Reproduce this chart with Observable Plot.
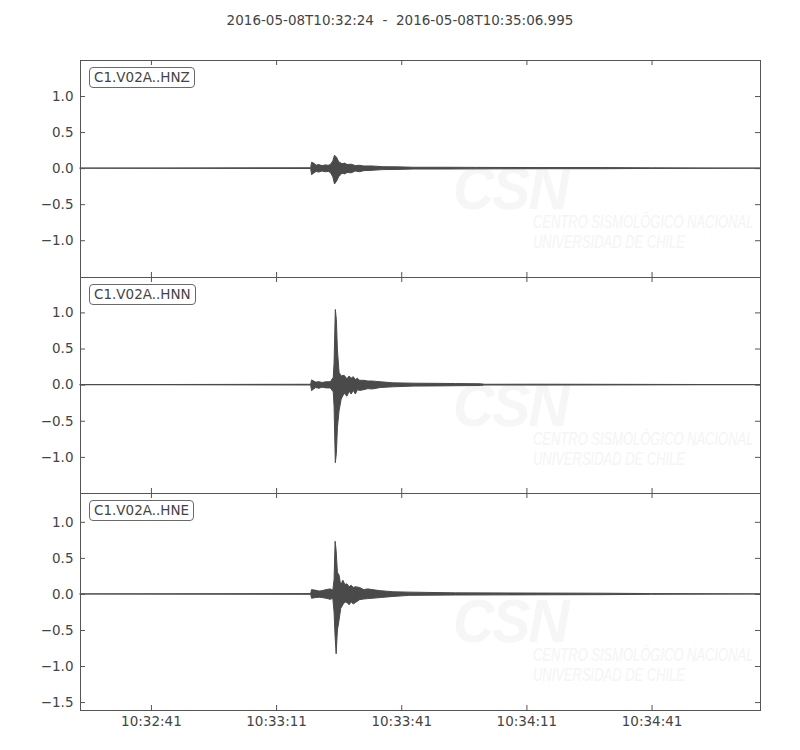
<!DOCTYPE html>
<html>
<head>
<meta charset="utf-8">
<script src="https://cdn.jsdelivr.net/npm/d3@7"></script>
<script src="https://cdn.jsdelivr.net/npm/@observablehq/plot@0.6"></script>
<style>
  body { margin: 0; background: #fff; }
  #chart { position: relative; width: 800px; height: 750px; font-family: "DejaVu Sans", sans-serif; color: #444; overflow: hidden; }
  .title { position: absolute; top: 12px; left: 0; width: 800px; text-align: center; font-size: 13.5px; white-space: pre; }
  .panel { position: absolute; left: 0; }
  .label { position: absolute; left: 89px; padding: 1px 4px; border: 1px solid #6a6a6a; border-radius: 4px; background: #fff; font-size: 13.5px; line-height: 17px; }
  .wm1 { position: absolute; left: 453px; font: italic bold 62px "Liberation Sans", sans-serif; color: #f6f6f6; transform: scaleX(0.92); transform-origin: left top; letter-spacing: -2px; }
  .wm2 { position: absolute; left: 533px; font: italic 18px "Liberation Sans", sans-serif; color: #f4f4f4; line-height: 20px; white-space: pre; transform: scaleX(0.72); transform-origin: left top; }
</style>
</head>
<body>
<div id="chart"></div>
<script>
// ---------- data ----------
const startTime = "2016-05-08T10:32:24Z";
const endTime = "2016-05-08T10:35:06.995Z";
const titleText = "2016-05-08T10:32:24  -  2016-05-08T10:35:06.995";
const channels = ["C1.V02A..HNZ", "C1.V02A..HNN", "C1.V02A..HNE"];
const xTickLabels = ["10:32:41", "10:33:11", "10:33:41", "10:34:11", "10:34:41"];
const yTicksA = [-1, -0.5, 0, 0.5, 1];
const yTicksB = [-1.5, -1, -0.5, 0, 0.5, 1];
const watermarkBig = "CSN";
const watermarkLines = "CENTRO SISMOLÓGICO NACIONAL\nUNIVERSIDAD DE CHILE";

// envelopes: seconds after start, upper and lower amplitude
const hnzT  = [0, 55.3, 55.5, 56.0, 56.6, 57.2, 58.0, 58.8, 59.5, 60.0, 60.6, 61.0, 61.5, 62.0, 62.8, 63.5, 64.0, 65.0, 66.0, 67.0, 68.0, 70.0, 72.6, 76.0, 80.0, 88.0, 95.0, 110.0, 125.0, 137.0, 162.995];
const hnzHi = [0, 0.005, 0.08, 0.07, 0.04, 0.05, 0.035, 0.045, 0.04, 0.05, 0.10, 0.18, 0.15, 0.09, 0.06, 0.07, 0.05, 0.055, 0.035, 0.04, 0.03, 0.03, 0.02, 0.018, 0.012, 0.012, 0.01, 0.008, 0.008, 0.004, 0];
const hnzLo = [0, -0.005, -0.09, -0.07, -0.045, -0.055, -0.04, -0.05, -0.045, -0.06, -0.12, -0.22, -0.18, -0.12, -0.07, -0.08, -0.06, -0.065, -0.04, -0.05, -0.035, -0.03, -0.02, -0.018, -0.012, -0.012, -0.01, -0.008, -0.008, -0.004, 0];

const hnnT  = [0, 55.3, 55.5, 56.0, 56.5, 57.3, 58.0, 59.0, 60.0, 60.7, 60.9, 61.2, 61.45, 61.7, 62.1, 62.6, 63.3, 64.0, 64.5, 65.0, 65.5, 66.0, 66.5, 67.0, 68.0, 69.0, 70.0, 72.0, 75.0, 80.0, 85.0, 90.0, 96.0, 97.0, 110.0, 130.0, 162.995];
const hnnHi = [0, 0.005, 0.065, 0.05, 0.035, 0.04, 0.03, 0.04, 0.04, 0.10, 0.3, 1.04, 0.9, 0.48, 0.17, 0.12, 0.13, 0.08, 0.12, 0.09, 0.11, 0.07, 0.09, 0.06, 0.06, 0.05, 0.05, 0.04, 0.025, 0.02, 0.018, 0.015, 0.012, 0.005, 0.006, 0.004, 0];
const hnnLo = [0, -0.005, -0.083, -0.06, -0.04, -0.05, -0.035, -0.045, -0.045, -0.10, -0.3, -1.08, -0.95, -0.59, -0.36, -0.2, -0.12, -0.16, -0.09, -0.13, -0.08, -0.13, -0.07, -0.08, -0.07, -0.055, -0.06, -0.04, -0.03, -0.02, -0.018, -0.015, -0.012, -0.005, -0.006, -0.004, 0];

const hneT  = [0, 55.3, 55.5, 56.5, 57.3, 58.0, 59.0, 60.0, 60.6, 60.9, 61.15, 61.4, 61.7, 62.1, 62.5, 63.0, 63.5, 64.0, 64.5, 65.0, 65.5, 66.0, 67.0, 68.0, 69.0, 70.0, 72.0, 75.0, 79.0, 90.0, 110.0, 125.0, 137.0, 162.995];
const hneHi = [0, 0.005, 0.06, 0.05, 0.04, 0.045, 0.06, 0.07, 0.05, 0.2, 0.73, 0.6, 0.3, 0.26, 0.12, 0.19, 0.13, 0.14, 0.10, 0.12, 0.09, 0.10, 0.09, 0.06, 0.07, 0.06, 0.045, 0.03, 0.025, 0.015, 0.012, 0.01, 0.005, 0];
const hneLo = [0, -0.005, -0.06, -0.05, -0.045, -0.05, -0.06, -0.075, -0.06, -0.25, -0.6, -0.83, -0.5, -0.36, -0.2, -0.15, -0.11, -0.12, -0.15, -0.11, -0.14, -0.12, -0.08, -0.07, -0.065, -0.06, -0.05, -0.035, -0.02, -0.015, -0.012, -0.01, -0.005, 0];

// ---------- build ----------
const t0 = new Date(startTime);
const t1 = new Date(endTime);
const toDate = s => new Date(t0.getTime() + s * 1000);
const rows = (T, H, L) => T.map((t, i) => ({time: toDate(t), hi: H[i], lo: L[i]}));
const xTicks = xTickLabels.map(s => new Date("2016-05-08T" + s + "Z"));

const series = [rows(hnzT, hnzHi, hnzLo), rows(hnnT, hnnHi, hnnLo), rows(hneT, hneHi, hneLo)];
const yDomains = [[-1.51, 1.5], [-1.5, 1.49], [-1.61, 1.40]];
const yTickSets = [yTicksA, yTicksA, yTicksB];
const panelTops = [60, 277, 493];
const panelHeights = [217, 216, 217];

const ink = "#4a4a4a";
const chart = document.getElementById("chart");

const title = document.createElement("div");
title.className = "title";
title.textContent = titleText;
chart.appendChild(title);

// watermarks (faint, behind)
panelTops.forEach(top => {
  const a = document.createElement("div");
  a.className = "wm1";
  a.style.top = (top + 92) + "px";
  a.textContent = watermarkBig;
  chart.appendChild(a);
  const b = document.createElement("div");
  b.className = "wm2";
  b.style.top = (top + 152) + "px";
  b.textContent = watermarkLines;
  chart.appendChild(b);
});

series.forEach((data, i) => {
  const last = i === series.length - 1;
  const mt = 10, mb = last ? 40 : 10;
  const ph = panelHeights[i];
  const ticks = yTickSets[i];
  const fmt = d3.format(".1f");
  const svg = Plot.plot({
    width: 800,
    height: mt + ph + mb,
    marginLeft: 80,
    marginRight: 40,
    marginTop: mt,
    marginBottom: mb,
    style: {background: "transparent", fontFamily: "DejaVu Sans, sans-serif", fontSize: "13.5px", color: "#444", overflow: "visible"},
    x: {type: "utc", domain: [t0, t1]},
    y: {domain: yDomains[i]},
    marks: [
      Plot.areaY(data, {x: "time", y1: "lo", y2: "hi", fill: ink, stroke: ink, strokeWidth: 1}),
      Plot.axisY({ticks, tickSize: 0, tickPadding: 7, tickFormat: fmt, fill: "#444"}),
      Plot.tickY(ticks, {y: d => d, insetRight: 675, stroke: "#555"}),
      Plot.tickY(ticks, {y: d => d, insetLeft: 675, stroke: "#555"}),
      Plot.tickX(xTicks, {x: d => d, insetBottom: ph - 5, stroke: "#555"}),
      Plot.tickX(xTicks, {x: d => d, insetTop: ph - 5, stroke: "#555"}),
      last ? Plot.axisX({ticks: xTicks, tickSize: 0, tickPadding: 6, tickFormat: d3.utcFormat("%H:%M:%S"), fill: "#444", label: null}) : Plot.axisX({ticks: [], label: null}),
      Plot.frame({stroke: "#555", strokeWidth: 1})
    ]
  });
  svg.classList.add("panel");
  svg.style.top = (panelTops[i] - mt) + "px";
  svg.style.position = "absolute";
  chart.appendChild(svg);

  const lab = document.createElement("div");
  lab.className = "label";
  lab.style.top = (panelTops[i] + 7) + "px";
  lab.textContent = channels[i];
  chart.appendChild(lab);
});
</script>
</body>
</html>
